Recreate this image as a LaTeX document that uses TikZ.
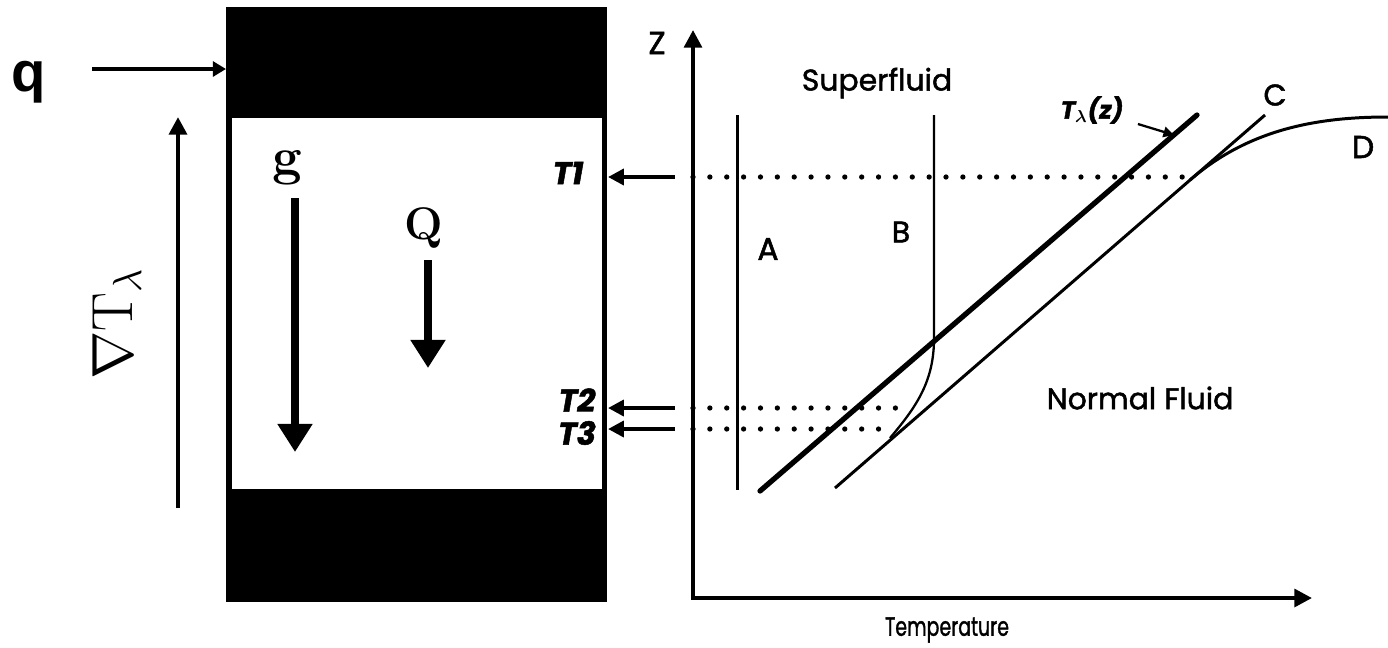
\RequirePackage{fix-cm}
\documentclass[tikz,border=0pt]{standalone}
\usepackage{fontspec}
\usepackage{graphicx}
\usepackage{bm}
\usetikzlibrary{arrows.meta}
\newfontfamily\geofont[FakeBold=1.6]{Poppins}
\newfontfamily\arialfont{Liberation Sans}
\begin{document}
\begin{tikzpicture}[x=0.02cm,y=-0.02cm,
	lbl/.style={font=\geofont\fontsize{17}{17}\selectfont},
	tlbl/.style={font=\geofont\bfseries\itshape\fontsize{18}{18}\selectfont},
	dots/.style={line width=3pt,line cap=round,dash pattern=on 0pt off 9.6pt},
	tarr/.style={line width=2.2pt,-{Triangle[length=9pt,width=9pt]}},
	fat/.style={line width=4.5pt,-{Triangle[length=16pt,width=19pt]}},
	axis/.style={line width=2.3pt,{Triangle[length=10pt,width=10pt]}-{Triangle[length=10pt,width=10pt]}}]
	\useasboundingbox (0,0) rectangle (1388,647);
	\fill (226,7) rectangle (607,602);
	\fill[white] (232,118) rectangle (602,489);
	\node[font=\arialfont\bfseries\fontsize{32}{32}\selectfont] (q) at (29,82) {q};
	\coordinate (qTail) at (92,69);
	\coordinate (qTip) at (226,69);
	\draw[line width=2.3pt,-{Triangle[length=7.5pt,width=8.5pt]}] (qTail) -- (qTip);
	\coordinate (gradBot) at (178,508);
	\coordinate (gradTop) at (178,117);
	\draw[line width=2.8pt,-{Triangle[length=10pt,width=10pt]}] (gradBot) -- (gradTop);
	\node[rotate=90,font=\fontsize{33}{33}\selectfont] (grad) at (117,324) {$\nabla\mathrm{T}_\lambda$};
	\node[font=\bfseries\fontsize{30}{30}\selectfont] (g) at (287,168) {g};
	\coordinate (gTail) at (295,198);
	\coordinate (gTip) at (295,452);
	\draw[fat] (gTail) -- (gTip);
	\node[font=\bfseries\fontsize{26}{26}\selectfont] (Q) at (424,228) {Q};
	\coordinate (QTail) at (428,260);
	\coordinate (QTip) at (428,368);
	\draw[fat] (QTail) -- (QTip);
	\node[tlbl] (t1) at (568,173) {T1};
	\node[tlbl] (t2) at (577,400) {T2};
	\node[tlbl] (t3) at (577,433) {T3};
	\coordinate (t1a) at (675,177);
	\coordinate (t1b) at (608,177);
	\coordinate (t2a) at (675,408);
	\coordinate (t2b) at (608,408);
	\coordinate (t3a) at (675,429);
	\coordinate (t3b) at (608,429);
	\draw[tarr] (t1a) -- (t1b);
	\draw[tarr] (t2a) -- (t2b);
	\draw[tarr] (t3a) -- (t3b);
	\coordinate (o) at (693,598);
	\coordinate (zTip) at (693,30);
	\coordinate (xTip) at (1312,598);
	\draw[axis] (zTip) -- (o) -- (xTip);
	\node[lbl,font=\geofont\fontsize{18}{18}\selectfont] (z) at (657,43) {Z};
	\node[lbl,font=\geofont\fontsize{15}{15}\selectfont] (temp) at (947,630) {\scalebox{0.72}[1]{Temperature}};
	\node[lbl] (sf) at (877,83) {Superfluid};
	\node[lbl] (nf) at (1140,398) {Normal Fluid};
	\coordinate (aTop) at (737,115);
	\coordinate (aBot) at (737,490);
	\draw[line width=1.7pt] (aTop) -- (aBot);
	\node[lbl,font=\geofont\fontsize{18}{18}\selectfont] (A) at (768,249) {A};
	\coordinate (bTop) at (934,115);
	\coordinate (bKnee) at (934,338);
	\coordinate (bEnd) at (890,438);
	\draw[line width=1.3pt] (bTop) -- (bKnee) .. controls (934,380) and (918,405) .. (bEnd);
	\node[lbl] (B) at (901,232) {B};
	\coordinate (lamBot) at (760,491);
	\coordinate (lamTop) at (1197,115);
	\draw[line width=3pt,line cap=round] (lamBot) -- (lamTop);
	\coordinate (cBot) at (835,488);
	\coordinate (cTop) at (1265,115);
	\draw[line width=1.7pt] (cBot) -- (cTop);
	\node[lbl] (C) at (1275,95) {C};
	\coordinate (dStart) at (1190,180);
	\coordinate (dEnd) at (1388,117);
	\draw[line width=1.7pt] (dStart) .. controls (1250,128) and (1320,117) .. (dEnd);
	\node[lbl,font=\geofont\fontsize{18}{18}\selectfont] (D) at (1363,147) {D};
	\node[font=\geofont\bfseries\itshape\fontsize{14}{14}\selectfont] (lam) at (1092,110) {T$_{\bm\lambda}$(z)};
	\coordinate (lamTip) at (1174,135);
	\draw[line width=1.3pt,shorten <=5pt,-{Triangle[length=6pt,width=6pt]}] (lam) -- (lamTip);
	\draw[dots] (o |- t1a) -- (dStart |- t1a);
	\draw[dots] (o |- t2a) -- (905,408);
	\draw[dots] (o |- t3a) -- (bEnd |- t3a);
\end{tikzpicture}
\end{document}
